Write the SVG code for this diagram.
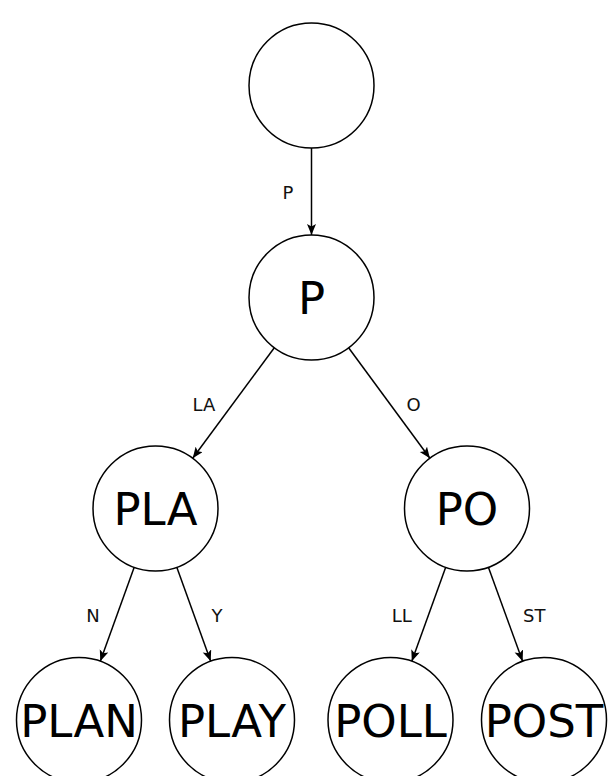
<svg xmlns="http://www.w3.org/2000/svg" width="611" height="776" viewBox="0 0 611 776">
  <style>
    .node circle { fill: #ffffff; stroke: #000000; stroke-width: 1.5; }
    .node text { font-family: "DejaVu Sans", "Liberation Sans", sans-serif; font-size: 45px; fill: #000000; text-anchor: middle; }
    .edge line { stroke: #000000; stroke-width: 1.5; marker-end: url(#arrow); }
    .edge text { font-family: "DejaVu Sans", "Liberation Sans", sans-serif; font-size: 18px; fill: #111111; text-anchor: middle; }
  </style>
  <defs>
    <marker id="arrow" markerUnits="userSpaceOnUse" markerWidth="12" markerHeight="10" refX="11" refY="4.5" orient="auto">
      <path d="M0,0 L11,4.5 L0,9 L2.5,4.5 z" fill="#000000"/>
    </marker>
  </defs>
  <rect width="611" height="776" fill="#ffffff"/>

  <!-- connectors -->
  <g id="connectors">
    <g class="edge" id="e-root-p">
      <line x1="311.5" y1="148" x2="311.5" y2="235"/>
      <text x="288" y="198.5">P</text>
    </g>
    <g class="edge" id="e-p-pla">
      <line x1="274.3" y1="347.8" x2="192.7" y2="458.2"/>
      <text x="204" y="410.5">LA</text>
    </g>
    <g class="edge" id="e-p-po">
      <line x1="348.6" y1="347.8" x2="429.9" y2="458.2"/>
      <text x="413.5" y="410.5">O</text>
    </g>
    <g class="edge" id="e-pla-plan">
      <line x1="134.2" y1="567.3" x2="100.3" y2="661.2"/>
      <text x="93" y="621.5">N</text>
    </g>
    <g class="edge" id="e-pla-play">
      <line x1="176.8" y1="567.3" x2="210.7" y2="661.2"/>
      <text x="217" y="621.5">Y</text>
    </g>
    <g class="edge" id="e-po-poll">
      <line x1="445.7" y1="567.3" x2="411.8" y2="661.2"/>
      <text x="401.7" y="621.5">LL</text>
    </g>
    <g class="edge" id="e-po-post">
      <line x1="488.4" y1="567.3" x2="522.6" y2="661.2"/>
      <text x="534.3" y="621.5">ST</text>
    </g>
  </g>

  <!-- nodes -->
  <g class="node" id="n-root">
    <circle cx="311.5" cy="85.5" r="62.5"/>
  </g>
  <g class="node" id="n-p">
    <circle cx="311.5" cy="297.5" r="62.5"/>
    <text x="311.5" y="314">P</text>
  </g>
  <g class="node" id="n-pla">
    <circle cx="155.5" cy="508.5" r="62.5"/>
    <text x="155.5" y="525">PLA</text>
  </g>
  <g class="node" id="n-po">
    <circle cx="467" cy="508.5" r="62.5"/>
    <text x="467" y="525">PO</text>
  </g>
  <g class="node" id="n-plan">
    <circle cx="79" cy="720" r="62.5"/>
    <text x="79" y="736.5">PLAN</text>
  </g>
  <g class="node" id="n-play">
    <circle cx="232" cy="720" r="62.5"/>
    <text x="232" y="736.5">PLAY</text>
  </g>
  <g class="node" id="n-poll">
    <circle cx="390.5" cy="720" r="62.5"/>
    <text x="390.5" y="736.5">POLL</text>
  </g>
  <g class="node" id="n-post">
    <circle cx="544" cy="720" r="62.5"/>
    <text x="544" y="736.5">POST</text>
  </g>
</svg>
